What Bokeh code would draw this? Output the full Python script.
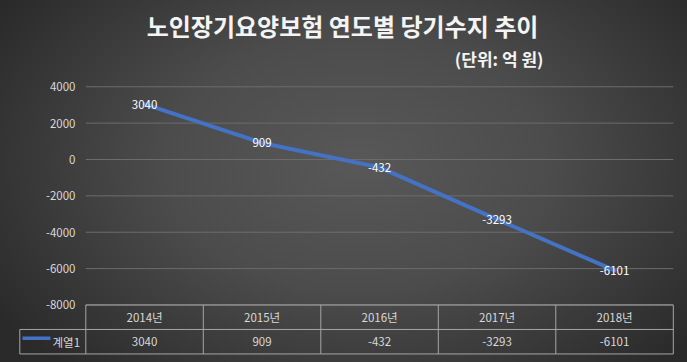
from bokeh.plotting import figure
from bokeh.models import Range1d, ColumnDataSource
from bokeh.core.properties import value
from bokeh.embed import file_html
from bokeh.resources import INLINE

# ---------------- data ----------------
TITLE = "노인장기요양보험 연도별 당기수지 추이"
UNIT = "(단위: 억 원)"
SERIES_NAME = "계열1"
CATEGORIES = ["2014년", "2015년", "2016년", "2017년", "2018년"]
VALUES = [3040, 909, -432, -3293, -6101]
Y_TICKS = [-8000, -6000, -4000, -2000, 0, 2000, 4000]

# ---------------- layout / style ----------------
FONT = "Noto Sans CJK KR"
FIG_W, FIG_H = 687, 362
PX_PER_CAT = 117.5
COL0_PX = 85.3            # left edge of first category column (px)
ZERO_PX = 159.0           # y pixel of value 0
PX_PER_UNIT = 218.2 / 12000.0
ROW_PX = 24.5

X_START = -0.5 - COL0_PX / PX_PER_CAT
X_END = X_START + FIG_W / PX_PER_CAT
Y_END = ZERO_PX / PX_PER_UNIT
Y_START = Y_END - FIG_H / PX_PER_UNIT


def px_x(px):
    return X_START + px / PX_PER_CAT


def px_y(py):
    return Y_END - py / PX_PER_UNIT


LINE_COLOR = "#4472C4"
TEXT_COLOR = "#d9d9d9"
GRID_COLOR = "#6c6c6c"
TABLE_COLOR = "#a6a6a6"
SMALL = "11.5px"

p = figure(
    width=FIG_W, height=FIG_H,
    x_range=Range1d(X_START, X_END), y_range=Range1d(Y_START, Y_END),
    x_axis_type=None, y_axis_type=None, title=None,
    output_backend="svg", toolbar_location=None,
    min_border=0,
)
p.styles = {
    "background": "radial-gradient(62% 78% at 52% 45%, #585858 0%, #4c4c4c 45%, #2a2a2a 100%)"
}
p.background_fill_alpha = 0
p.border_fill_alpha = 0
p.outline_line_color = None

n = len(CATEGORIES)
idx = list(range(n))

# horizontal gridlines and y tick labels
p.segment(x0=[-0.5] * len(Y_TICKS), x1=[n - 0.5] * len(Y_TICKS), y0=Y_TICKS, y1=Y_TICKS,
          line_color=GRID_COLOR, line_width=1)
p.text(x=[px_x(75)] * len(Y_TICKS), y=Y_TICKS, text=[str(t) for t in Y_TICKS],
       text_align="right", text_baseline="middle", text_color=TEXT_COLOR,
       text_font=value(FONT), text_font_size=SMALL)

# data table below the plot
row_h = ROW_PX / PX_PER_UNIT
table_top = min(Y_TICKS)
row_lines = [table_top - k * row_h for k in range(3)]
p.segment(x0=[-0.5] * 3, x1=[n - 0.5] * 3, y0=row_lines, y1=row_lines,
          line_color=TABLE_COLOR, line_width=1)
vx = [i - 0.5 for i in range(n + 1)]
p.segment(x0=vx, x1=vx, y0=[row_lines[0]] * (n + 1), y1=[row_lines[2]] * (n + 1),
          line_color=TABLE_COLOR, line_width=1)
p.text(x=idx, y=[table_top - 0.5 * row_h] * n, text=CATEGORIES,
       text_align="center", text_baseline="middle", text_color=TEXT_COLOR,
       text_font=value(FONT), text_font_size=SMALL)
p.text(x=idx, y=[table_top - 1.5 * row_h] * n, text=[str(v) for v in VALUES],
       text_align="center", text_baseline="middle", text_color=TEXT_COLOR,
       text_font=value(FONT), text_font_size=SMALL)

# legend cell of the table
cell_l = px_x(19.3)
p.segment(x0=[cell_l, cell_l, cell_l], x1=[-0.5, -0.5, cell_l],
          y0=[row_lines[1], row_lines[2], row_lines[1]],
          y1=[row_lines[1], row_lines[2], row_lines[2]],
          line_color=TABLE_COLOR, line_width=1)
p.segment(x0=[px_x(22)], x1=[px_x(50)], y0=[px_y(337.7)], y1=[px_y(337.7)],
          line_color=LINE_COLOR, line_width=3.5)
p.text(x=[px_x(52)], y=[table_top - 1.5 * row_h], text=[SERIES_NAME],
       text_align="left", text_baseline="middle", text_color=TEXT_COLOR,
       text_font=value(FONT), text_font_size=SMALL)

# line + data labels
src = ColumnDataSource(dict(x=idx, y=VALUES, lab=[str(v) for v in VALUES]))
p.line("x", "y", source=src, line_color=LINE_COLOR, line_width=4, line_cap="round")
p.text("x", "y", text="lab", source=src, text_align="center", text_baseline="middle",
       text_color="#ffffff", text_font=value(FONT), text_font_size=SMALL)

# titles
p.text(x=[px_x(342)], y=[px_y(25)], text=[TITLE], text_align="center",
       text_baseline="middle", text_color="#f4f4f4", text_font=value(FONT),
       text_font_size="24px", text_font_style="bold")
p.text(x=[px_x(543)], y=[px_y(58)], text=[UNIT], text_align="right",
       text_baseline="middle", text_color="#f4f4f4", text_font=value(FONT),
       text_font_size="17px", text_font_style="bold")

open("out.html", "w").write(file_html(p, INLINE))
